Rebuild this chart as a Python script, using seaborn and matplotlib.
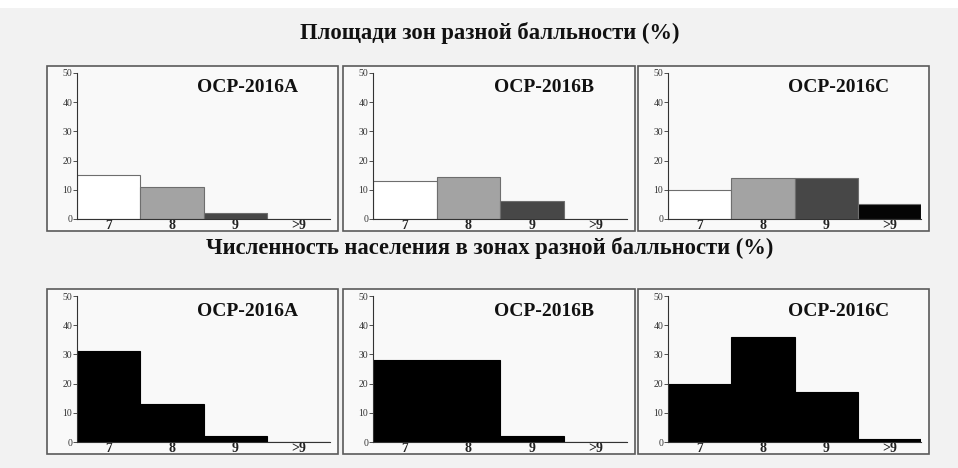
import matplotlib
matplotlib.use("Agg")
import matplotlib.pyplot as plt
import seaborn as sns
import pandas as pd

sns.set_theme(style="white")
plt.rcParams['font.family'] = ['Liberation Serif', 'DejaVu Serif']

# ---- data ----
categories = ["7", "8", "9", ">9"]
scenarios = ["OCP-2016A", "OCP-2016B", "OCP-2016C"]
area_A = [15, 11, 2, 0]
area_B = [13, 14.5, 6, 0]
area_C = [10, 14, 14, 5]
pop_A = [31, 13, 2, 0]
pop_B = [28, 28, 2, 0]
pop_C = [20, 36, 17, 1]
yticks = [0, 10, 20, 30, 40, 50]
title_top = "Площади зон разной балльности (%)"
title_bottom = "Численность населения в зонах разной балльности (%)"

area_vals = [area_A, area_B, area_C]
pop_vals = [pop_A, pop_B, pop_C]

top_palette = {"7": "#ffffff", "8": "#a3a3a3", "9": "#474747", ">9": "#050505"}
bot_palette = {c: "#000000" for c in categories}

W, H = 958, 468
fig = plt.figure(figsize=(W / 100, H / 100), dpi=100)
fig.patch.set_facecolor("#f2f2f2")


def rect(x0, y0, x1, y1):
    return [x0 / W, 1 - y1 / H, (x1 - x0) / W, (y1 - y0) / H]


# thin white strip at the very top
strip = fig.add_axes(rect(0, 0, W, 8))
strip.set_facecolor("#ffffff")
strip.set_axis_off()
strip.add_patch(plt.Rectangle((0, 0), 1, 1, transform=strip.transAxes,
                              facecolor="#ffffff", edgecolor="none"))

col_boxes = [(47, 338), (343, 635), (638, 929)]
row_boxes = [(66, 231), (289, 454)]

for r, (vals_list, palette, edge) in enumerate([(area_vals, top_palette, "#6e6e6e"),
                                                 (pop_vals, bot_palette, "#000000")]):
    by0, by1 = row_boxes[r]
    for c, (bx0, bx1) in enumerate(col_boxes):
        box = fig.add_axes(rect(bx0, by0, bx1, by1))
        box.set_facecolor("#f9f9f9")
        box.set_xticks([])
        box.set_yticks([])
        for s in box.spines.values():
            s.set_visible(False)

        ax = fig.add_axes(rect(bx0 + 30, by0 + 7, bx1 - 8, by1 - 12))
        ax.patch.set_alpha(0)
        df = pd.DataFrame({"cat": categories, "val": vals_list[c]})
        sns.barplot(data=df, x="cat", y="val", hue="cat", palette=palette,
                    order=categories, hue_order=categories, width=1.0,
                    edgecolor=edge, linewidth=0.8, legend=False, ax=ax)
        ax.set_xlim(-0.5, 3.5)
        ax.set_ylim(0, 50)
        ax.set_yticks(yticks)
        ax.set_yticklabels([str(t) for t in yticks], fontsize=7, color="#333333")
        ax.tick_params(axis="y", length=3, width=0.6, color="#333333", pad=0.5, left=True)
        ax.tick_params(axis="x", length=0, pad=0.3)
        ax.set_xticks(range(len(categories)))
        ax.set_xticklabels(categories, fontsize=10, fontweight="bold", color="#222222")
        for lbl in ax.get_xticklabels():
            lbl.set_clip_box(box.bbox)
            lbl.set_clip_on(True)
        ax.set_xlabel("")
        ax.set_ylabel("")
        for s in ["top", "right"]:
            ax.spines[s].set_visible(False)
        for s in ["left", "bottom"]:
            ax.spines[s].set_color("#333333")
            ax.spines[s].set_linewidth(0.8)

        # box border drawn on top of everything in the panel
        border = plt.Rectangle((bx0 / W, 1 - by1 / H), (bx1 - bx0) / W, (by1 - by0) / H,
                               transform=fig.transFigure, fill=False,
                               edgecolor="#5a5a5a", linewidth=1.2, zorder=5)
        fig.add_artist(border)

        fig.text((bx0 + 201) / W, 1 - (by0 + 22) / H, scenarios[c],
                 ha="center", va="center", fontsize=14, fontweight="bold",
                 color="#111111")

fig.text(490 / W, 1 - 33 / H, title_top, ha="center", va="center",
         fontsize=16.3, fontweight="bold", color="#111111")
fig.text(490 / W, 1 - 248 / H, title_bottom, ha="center", va="center",
         fontsize=16.3, fontweight="bold", color="#111111")

fig.savefig("out.png", dpi=100, facecolor=fig.get_facecolor())
